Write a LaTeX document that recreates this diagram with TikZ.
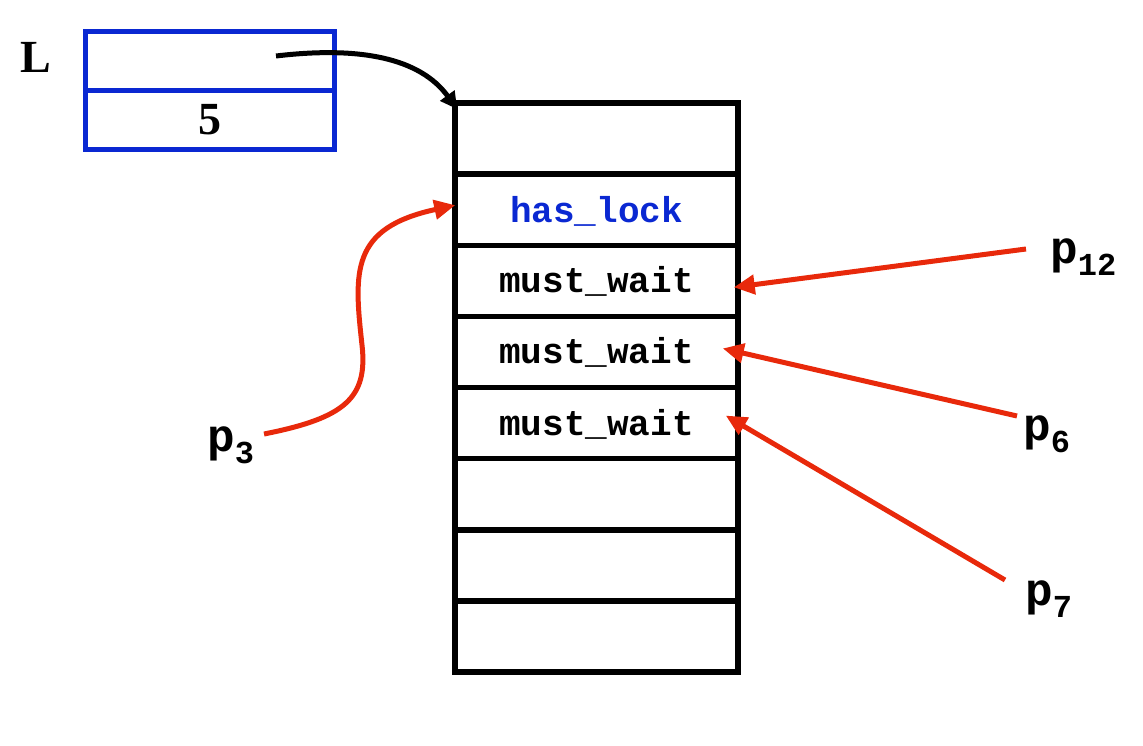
\documentclass[tikz,border=0pt]{standalone}
\usepackage{fontspec}
\setmainfont{Liberation Serif}
\setmonofont{Liberation Mono}
\usetikzlibrary{arrows.meta}
\definecolor{lblue}{RGB}{10,40,210}
\definecolor{lred}{RGB}{232,41,11}
\newcommand\plab[1]{p\raisebox{-12pt}{\fontsize{32}{32}\selectfont #1}}
\begin{document}
\begin{tikzpicture}[x=1pt,y=-1pt,
  rowbox/.style={draw=black, line width=5.5pt, minimum width=283pt, minimum height=71.125pt, inner sep=0pt},
  bluebox/.style={draw=lblue, line width=5pt, minimum width=249pt, minimum height=59pt, inner sep=0pt,
    font=\fontsize{46}{46}\selectfont\bfseries},
  mono/.style={font=\fontsize{36}{36}\selectfont\ttfamily\bfseries, inner sep=0pt, anchor=base},
  plabel/.style={font=\fontsize{46}{46}\selectfont\ttfamily\bfseries, inner sep=0pt, anchor=base west},
  redarr/.style={draw=lred, line width=5pt, -{Triangle[length=21pt,width=19pt]}},
  blkarr/.style={draw=black, line width=5pt, -{Triangle[length=17pt,width=17pt]}}
]
\useasboundingbox (0,0) rectangle (1143,746);

% blue record L
\node[font=\fontsize{46}{46}\selectfont\bfseries, inner sep=0pt, anchor=base west] (L) at (20,73) {L};
\node[bluebox] (b1) at (210,61) {};
\node[bluebox] (b2) at (210,120) {5};

% stack of rows
\foreach \i in {1,...,8} {
  \node[rowbox] (r\i) at (596.5,{103+71.125*(\i-0.5)}) {};
}
\node[mono, text=lblue] (t2) at ([yshift=-12.5pt]r2.center) {has\_lock};
\node[mono] (t3) at ([yshift=-12pt]r3.center) {must\_wait};
\node[mono] (t4) at ([yshift=-12pt]r4.center) {must\_wait};
\node[mono] (t5) at ([yshift=-12pt]r5.center) {must\_wait};

% process labels
\node[plabel] (p12) at (1050,263) {\plab{12}};
\node[plabel] (p6) at (1023,440) {\plab{6}};
\node[plabel] (p7) at (1025,605) {\plab{7}};
\node[plabel] (p3) at (207,451) {\plab{3}};

% free ends
\coordinate (sL) at (276,56);
\coordinate (s12) at (1026,249);
\coordinate (s6) at (1017,416);
\coordinate (s7) at (1005,580);
\coordinate (s3) at (264,434);

% pointer from L
\draw[blkarr] (sL) .. controls (360,46) and (420,58) .. ([xshift=5pt,yshift=-9pt]r1.north west);

% red arrows
\draw[redarr] (s12) -- ([xshift=-7pt,yshift=-6.5pt]r3.east);
\draw[redarr] (s6) -- ([xshift=-18pt,yshift=3.5pt]r4.east);
\draw[redarr] (s7) -- ([xshift=-15pt,yshift=7.5pt]r5.east);
\draw[redarr] (s3) .. controls (345,418) and (368,398) .. (362,345)
  .. controls (354,272) and (350,228) .. ([xshift=3pt,yshift=4.5pt]r2.west);
\end{tikzpicture}
\end{document}
